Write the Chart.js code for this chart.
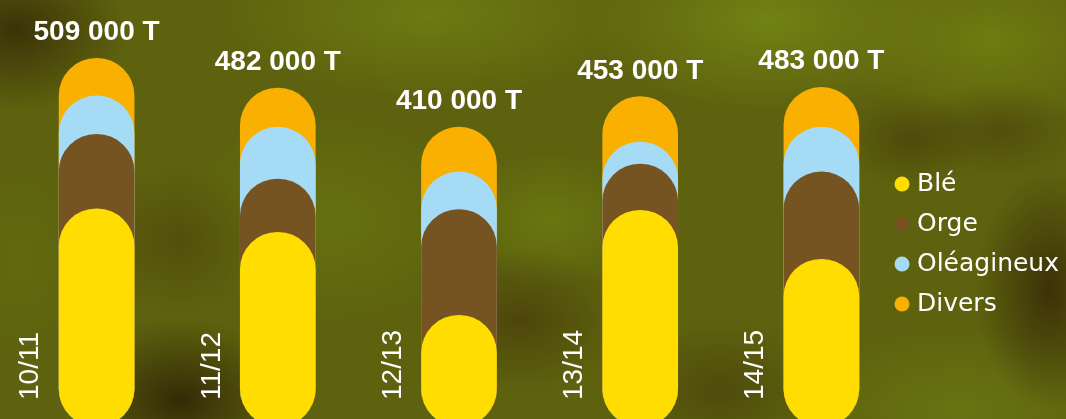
<!DOCTYPE html>
<html lang="fr">
<head>
<meta charset="utf-8">
<title>Collecte par campagne</title>
<script src="https://cdn.jsdelivr.net/npm/chart.js@4.4.1/dist/chart.umd.min.js"></script>
<style>
  html, body { margin: 0; padding: 0; }
  body {
    width: 1066px;
    height: 419px;
    overflow: hidden;
    /* blurred field photo, roughly */
    background:
      radial-gradient(ellipse 150px 110px at 15px 30px, rgba(58,48,8,0.95), transparent 75%),
      radial-gradient(ellipse 90px 60px at 910px 140px, rgba(66,54,8,0.55), transparent 80%),
      radial-gradient(ellipse 100px 60px at 1000px 130px, rgba(70,58,10,0.5), transparent 80%),
      radial-gradient(ellipse 100px 160px at 1050px 290px, rgba(58,46,8,0.95), transparent 75%),
      radial-gradient(ellipse 150px 110px at 180px 400px, rgba(50,40,6,0.95), transparent 75%),
      radial-gradient(ellipse 130px 90px at 520px 320px, rgba(70,58,10,0.7), transparent 80%),
      radial-gradient(ellipse 130px 90px at 720px 390px, rgba(70,60,10,0.6), transparent 80%),
      radial-gradient(ellipse 120px 90px at 180px 240px, rgba(76,66,10,0.6), transparent 80%),
      radial-gradient(ellipse 280px 110px at 430px 15px, rgba(108,124,18,0.95), transparent 75%),
      radial-gradient(ellipse 250px 120px at 770px 20px, rgba(114,132,20,0.95), transparent 75%),
      radial-gradient(ellipse 200px 120px at 990px 40px, rgba(110,126,16,0.95), transparent 75%),
      radial-gradient(ellipse 200px 140px at 330px 220px, rgba(102,116,16,0.85), transparent 75%),
      radial-gradient(ellipse 140px 90px at 550px 220px, rgba(106,122,16,0.85), transparent 75%),
      radial-gradient(ellipse 90px 120px at 20px 260px, rgba(98,108,14,0.8), transparent 75%),
      radial-gradient(ellipse 220px 110px at 960px 410px, rgba(104,120,18,0.85), transparent 75%),
      #5e620e;
  }
  canvas { display: block; }
</style>
</head>
<body>
<canvas id="collecte" width="1066" height="419"></canvas>
<script>
// campagnes et totaux affichés
const campagnes = ["10/11", "11/12", "12/13", "13/14", "14/15"];
const totaux = ["509 000 T", "482 000 T", "410 000 T", "453 000 T", "483 000 T"];

// milliers de tonnes (part visible de chaque pilule)
const ble = [296, 263, 146, 294, 225];
const orge = [105, 75, 149, 65, 123];
const oleagineux = [54, 73, 53, 31, 63];
const divers = [53, 55, 63, 64, 56];

// each pill starts at the bottom and goes up to the running total
function cumul(...series) {
  return campagnes.map((_, i) => series.reduce((s, a) => s + a[i], 0));
}

const pill = {
  grouped: false,
  barThickness: 75,
  borderRadius: 40,
  borderSkipped: false,
  base: -10, // bars run a little past the bottom edge
};

// write totals over the bars and the campaign names beside them
const etiquettes = {
  id: "etiquettes",
  afterDatasetsDraw(chart) {
    const ctx = chart.ctx;
    const x = chart.scales.x;
    const tops = chart.getDatasetMeta(3).data;
    ctx.save();
    ctx.fillStyle = "#ffffff";
    ctx.font = "bold 28px 'Liberation Sans', Arial, sans-serif";
    ctx.textAlign = "center";
    ctx.textBaseline = "alphabetic";
    tops.forEach((bar, i) => {
      ctx.fillText(totaux[i], bar.x, bar.y - 18);
    });
    ctx.font = "28px 'Liberation Sans', Arial, sans-serif";
    ctx.textAlign = "left";
    ctx.textBaseline = "middle";
    campagnes.forEach((c, i) => {
      ctx.save();
      ctx.translate(x.getPixelForValue(i) - 66, 400);
      ctx.rotate(-Math.PI / 2);
      ctx.fillText(c, 0, 0);
      ctx.restore();
    });
    ctx.restore();
  },
};

// legend sits over the right end of the plot area, a bit low
const legendSpot = {
  id: "legendSpot",
  afterLayout(chart) {
    const lg = chart.legend;
    lg.left = 884.5;
    lg.right = chart.width;
    lg.width = lg.right - lg.left;
    lg.top = 156.5;
    lg.bottom = lg.top + lg.height;
  },
};

new Chart(document.getElementById("collecte"), {
  type: "bar",
  data: {
    labels: campagnes,
    datasets: [
      { ...pill, label: "Blé", data: ble, backgroundColor: "#ffdd00" },
      { ...pill, label: "Orge", data: cumul(ble, orge), backgroundColor: "#765422" },
      { ...pill, label: "Oléagineux", data: cumul(ble, orge, oleagineux), backgroundColor: "#a6dbf6" },
      { ...pill, label: "Divers", data: cumul(ble, orge, oleagineux, divers), backgroundColor: "#f9b000" },
    ],
  },
  options: {
    responsive: false,
    animation: false,
    layout: { padding: { left: 6, right: 0, top: 0, bottom: 0 } },
    scales: {
      x: { display: false },
      y: { display: false, min: 0, max: 590 },
    },
    plugins: {
      tooltip: { enabled: false },
      legend: {
        position: "right",
        align: "start",
        maxWidth: 154,
        labels: {
          usePointStyle: true,
          pointStyle: "circle",
          boxWidth: 5,
          boxHeight: 10.6,
          padding: 15,
          color: "#ffffff",
          font: { family: "'DejaVu Sans', sans-serif", size: 25 },
        },
      },
    },
  },
  plugins: [etiquettes, legendSpot],
});
</script>
</body>
</html>
